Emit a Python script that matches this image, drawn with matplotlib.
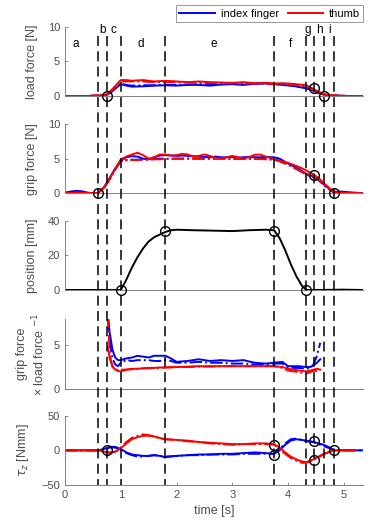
import numpy as np
import matplotlib.pyplot as plt

plt.rcParams['font.family'] = ['Liberation Sans', 'DejaVu Sans']

# phase boundaries (s) and the letters written above them
events = [0.59, 0.76, 1.0, 1.8, 3.75, 4.33, 4.46, 4.64, 4.83]
phase_letters = ['a', 'b', 'c', 'd', 'e', 'f', 'g', 'h', 'i']
letter_t = [0.2, 0.68, 0.87, 1.36, 2.66, 4.05, 4.36, 4.57, 4.74]

# load force [N]
t_load = [0, 0.4, 0.6, 0.7, 0.76, 0.85, 0.95, 1.0, 1.1, 1.2, 1.4, 1.6, 1.8, 2.0, 2.2,
          2.4, 2.6, 2.8, 3.0, 3.2, 3.4, 3.6, 3.75, 3.9, 4.1, 4.33, 4.46, 4.55, 4.64,
          4.75, 4.9, 5.1, 5.35]
load_index = [0, 0, 0.05, 0.1, 0.2, 0.7, 1.4, 1.7, 1.5, 1.35, 1.4, 1.5, 1.55, 1.5, 1.6,
              1.6, 1.5, 1.65, 1.7, 1.6, 1.75, 1.8, 1.7, 1.6, 1.45, 1.1, 0.75, 0.4, 0.2,
              0.1, 0.05, 0, 0]
load_index2 = [0, 0, 0.05, 0.1, 0.25, 0.8, 1.5, 1.8, 1.6, 1.5, 1.55, 1.55, 1.6, 1.6, 1.65,
               1.7, 1.7, 1.7, 1.75, 1.75, 1.8, 1.8, 1.75, 1.65, 1.5, 1.2, 0.9, 0.5, 0.25,
               0.1, 0.05, 0, 0]
load_thumb = [0, 0, 0.1, 0.15, 0.3, 1.0, 1.9, 2.3, 2.3, 2.2, 2.3, 2.1, 2.2, 2.1, 2.0,
              2.1, 2.0, 1.95, 1.9, 2.0, 1.85, 1.9, 1.8, 1.85, 1.75, 1.55, 1.0, 0.6, 0.3,
              0.15, 0.05, 0, 0]
load_thumb2 = [0, 0, 0.1, 0.15, 0.3, 0.9, 1.7, 2.1, 2.1, 2.1, 2.1, 2.0, 2.0, 2.0, 1.95,
               1.95, 1.9, 1.9, 1.85, 1.85, 1.8, 1.8, 1.75, 1.7, 1.6, 1.4, 0.9, 0.5, 0.2,
               0.1, 0.05, 0, 0]
load_marks_t = [0.76, 4.46, 4.64]
load_marks_y = [0, 1.2, 0]

# grip force [N]
t_grip = [0, 0.1, 0.2, 0.3, 0.4, 0.5, 0.59, 0.7, 0.8, 0.9, 1.0, 1.1, 1.2, 1.3, 1.4,
          1.5, 1.6, 1.7, 1.8, 1.9, 2.0, 2.1, 2.2, 2.3, 2.4, 2.5, 2.6, 2.7, 2.8, 2.9,
          3.0, 3.1, 3.2, 3.3, 3.4, 3.5, 3.6, 3.75, 3.85, 4.0, 4.1, 4.2, 4.33, 4.46, 4.55,
          4.64, 4.75, 4.83, 4.95, 5.1, 5.35]
grip_index = [0.1, 0.25, 0.35, 0.3, 0.1, 0.0, 0.0, 0.9, 2.2, 3.6, 4.7, 5.2, 5.35, 5.3, 5.0,
              4.9, 5.2, 5.45, 5.5, 5.45, 5.4, 5.45, 5.4, 5.35, 5.3, 5.25, 5.2, 5.3, 5.2, 5.2,
              5.25, 5.15, 5.2, 5.25, 5.2, 5.2, 5.25, 5.2, 5.0, 4.3, 3.9, 3.5, 2.8, 2.4, 2.0,
              1.3, 0.6, 0.2, 0.25, 0.15, 0.0]
grip_index2 = [0.05, 0.1, 0.15, 0.1, 0.05, 0.0, 0.0, 0.8, 2.1, 3.5, 4.6, 4.8, 4.85, 4.85, 4.9,
               4.9, 4.95, 5.0, 5.0, 5.0, 5.0, 5.0, 5.0, 5.0, 5.0, 5.0, 5.0, 5.0, 5.0, 5.0,
               5.0, 5.0, 5.0, 5.0, 5.0, 5.0, 4.95, 4.9, 4.7, 4.2, 3.8, 3.3, 2.7, 2.3, 1.9,
               1.2, 0.5, 0.1, 0.1, 0.05, 0.0]
grip_thumb = [0.0, 0.05, 0.1, 0.1, 0.05, 0.0, 0.0, 0.8, 2.1, 3.5, 4.9, 5.3, 5.6, 5.85, 5.5,
              5.0, 5.2, 5.6, 5.6, 5.45, 5.5, 5.7, 5.6, 5.3, 5.4, 5.6, 5.4, 5.1, 5.0, 5.2,
              5.4, 5.2, 5.0, 5.2, 5.55, 5.6, 5.3, 4.9, 4.7, 4.4, 4.1, 3.8, 3.3, 2.7, 2.2,
              1.5, 0.7, 0.1, 0.1, 0.05, 0.0]
grip_thumb2 = [0.0, 0.0, 0.05, 0.05, 0.0, 0.0, 0.0, 0.8, 2.0, 3.4, 4.7, 4.75, 4.8, 4.8, 4.85,
               4.85, 4.9, 4.9, 4.95, 4.95, 5.0, 5.0, 5.0, 5.0, 5.0, 5.0, 5.0, 5.0, 5.0, 5.0,
               4.95, 4.95, 4.95, 4.95, 4.95, 4.95, 4.9, 4.85, 4.6, 4.1, 3.7, 3.3, 2.8, 2.5, 2.0,
               1.3, 0.6, 0.1, 0.05, 0.0, 0.0]
grip_marks_t = [0.59, 4.46, 4.83]
grip_marks_y = [0, 2.6, 0]

# object position [mm]
t_pos = [0, 0.5, 0.9, 1.0, 1.1, 1.2, 1.3, 1.4, 1.5, 1.6, 1.7, 1.8, 1.9, 2.0, 2.3,
         2.6, 3.0, 3.3, 3.6, 3.75, 3.85, 3.95, 4.05, 4.15, 4.25, 4.33, 4.5, 5.0, 5.35]
position = [0, 0, 0, 0, 6, 13, 19, 24, 28, 30.5, 32, 33.5, 34.5, 34.8, 34.5,
            34.3, 34.0, 34.5, 34.8, 34.5, 30, 23, 15, 8, 2.5, 0, 0, 0.2, 0]
pos_marks_t = [1.0, 1.8, 3.75, 4.33]
pos_marks_y = [0, 34, 34, 0]

# grip force / load force ratio
t_ratio = [0.77, 0.8, 0.85, 0.9, 0.95, 1.0, 1.1, 1.2, 1.3, 1.4, 1.5, 1.6, 1.7, 1.8, 1.9,
           2.0, 2.2, 2.4, 2.6, 2.8, 3.0, 3.2, 3.4, 3.6, 3.75, 3.9, 4.0, 4.1, 4.2, 4.33,
           4.4, 4.46, 4.52, 4.58]
ratio_index = [8.5, 6.5, 4.5, 3.6, 3.3, 3.3, 3.5, 3.6, 3.8, 3.7, 3.6, 3.8, 3.8, 3.8, 3.5,
               3.1, 3.2, 3.4, 3.2, 3.3, 3.2, 3.3, 3.0, 2.9, 3.0, 3.1, 2.6, 2.6, 2.6, 2.5,
               2.5, 2.7, 3.0, 3.4]
ratio_index2 = [8.0, 5.5, 3.5, 2.8, 2.6, 3.0, 3.3, 3.2, 3.3, 3.3, 3.3, 3.2, 3.2, 3.3, 3.2,
                3.0, 3.0, 3.1, 3.0, 3.0, 2.9, 2.9, 2.8, 2.8, 2.9, 2.9, 2.5, 2.4, 2.4, 2.3,
                2.4, 2.8, 3.8, 5.3]
ratio_thumb = [4.8, 3.5, 2.6, 2.2, 2.05, 2.0, 2.2, 2.3, 2.3, 2.35, 2.4, 2.4, 2.45, 2.45, 2.5,
               2.5, 2.55, 2.6, 2.6, 2.6, 2.6, 2.6, 2.6, 2.6, 2.6, 2.5, 2.3, 2.2, 2.1, 2.0,
               2.1, 2.2, 2.3, 2.2]
ratio_thumb2 = [8.5, 4.0, 2.5, 2.2, 2.2, 2.2, 2.2, 2.25, 2.3, 2.35, 2.35, 2.4, 2.4, 2.45, 2.45,
                2.5, 2.5, 2.55, 2.55, 2.6, 2.6, 2.6, 2.6, 2.6, 2.6, 2.4, 2.1, 2.0, 1.9, 1.75,
                1.9, 2.1, 2.0, 2.0]

# torque tau_z [Nmm]
t_tau = [0, 0.5, 0.6, 0.7, 0.8, 0.9, 1.0, 1.1, 1.2, 1.3, 1.4, 1.5, 1.6, 1.7, 1.8,
         2.0, 2.2, 2.4, 2.6, 2.8, 3.0, 3.2, 3.4, 3.6, 3.75, 3.85, 3.95, 4.05, 4.15, 4.25,
         4.33, 4.46, 4.55, 4.64, 4.75, 4.83, 5.0, 5.2, 5.35]
tau_index = [0, 0, 0, 2, 5, 5, 2, -3, -6, -7, -8, -8, -7, -8, -10,
             -8, -7, -6, -6, -5, -5, -4, -3, -4, -5, 0, 8, 14, 16, 15,
             14, 12, 10, 8, 4, 0, 0, 0, 0]
tau_index2 = [0, 0, 0, 1, 4, 4, 1, -4, -7, -9, -9, -8, -7, -8, -9,
              -8, -7, -7, -6, -6, -6, -5, -5, -5, -5, 2, 10, 16, 17, 15,
              13, 12, 9, 6, 3, 0, 0, 0, 0]
tau_thumb = [0, 0, 0, -2, -3, -2, 3, 10, 16, 19, 21, 21, 20, 18, 16,
             15, 14, 12, 11, 10, 9, 9, 10, 10, 9, 4, -3, -9, -13, -16,
             -17, -13, -9, -5, -2, 0, 0, 0, np.nan]
tau_thumb2 = [0, 0, 0, -2, -4, -2, 4, 12, 18, 21, 23, 22, 20, 17, 16,
              15, 13, 12, 10, 9, 8, 9, 9, 9, 8, 2, -5, -11, -15, -18,
              -18, -14, -10, -6, -2, 0, 0, 0, np.nan]
tau_marks_t = [0.76, 3.75, 3.75, 4.46, 4.46, 4.83]
tau_marks_y = [0, 7, -7, 14, -14, 0]

fig = plt.figure(figsize=(3.74, 5.29), dpi=100)

L, W = 0.174, 0.797
boxes = [0.8185, 0.6346, 0.4518, 0.2652, 0.0832]
H = 0.131
gray = '#4d4d4d'

axes = []
for b in boxes:
    ax = fig.add_axes([L, b, W, H])
    ax.set_xlim(0, 5.35)
    for s in ['top', 'right']:
        ax.spines[s].set_visible(False)
    for s in ['left', 'bottom']:
        ax.spines[s].set_color('#808080')
        ax.spines[s].set_linewidth(0.7)
    ax.tick_params(direction='in', length=2.5, width=0.6, colors='#808080',
                   labelcolor=gray, labelsize=8)
    ax.patch.set_alpha(0)
    axes.append(ax)

lw = 1.4
blue = '#0000ff'
red = '#ff0000'

def pair(ax, t, a, a2, b, b2):
    ax.plot(t, a, color=blue, lw=lw)
    ax.plot(t, a2, color=blue, lw=lw, ls='-.')
    ax.plot(t, b, color=red, lw=lw)
    ax.plot(t, b2, color=red, lw=lw, ls='-.')

def rings(ax, t, y):
    ax.plot(t, y, 'o', mfc='none', mec='k', mew=1.0, ms=7, clip_on=False, zorder=5)

# panel 1 - load force
ax = axes[0]
pair(ax, t_load, load_index, load_index2, load_thumb, load_thumb2)
rings(ax, load_marks_t, load_marks_y)
ax.set_ylim(0, 10)
ax.set_yticks([0, 5, 10])
ax.set_ylabel('load force [N]', fontsize=9)

# panel 2 - grip force
ax = axes[1]
pair(ax, t_grip, grip_index, grip_index2, grip_thumb, grip_thumb2)
rings(ax, grip_marks_t, grip_marks_y)
ax.set_ylim(0, 10)
ax.set_yticks([0, 5, 10])
ax.set_ylabel('grip force [N]', fontsize=9)

# panel 3 - position
ax = axes[2]
ax.plot(t_pos, position, color='k', lw=lw)
rings(ax, pos_marks_t, pos_marks_y)
ax.set_ylim(0, 40)
ax.set_yticks([0, 20, 40])
ax.set_ylabel('position [mm]', fontsize=9)

# panel 4 - ratio
ax = axes[3]
pair(ax, t_ratio, ratio_index, ratio_index2, ratio_thumb, ratio_thumb2)
ax.set_ylim(0, 8)
ax.set_yticks([0, 5])
ax.set_ylabel('grip force\n× load force $^{-1}$', fontsize=9)

# panel 5 - torque
ax = axes[4]
pair(ax, t_tau, tau_index, tau_index2, tau_thumb, tau_thumb2)
rings(ax, tau_marks_t, tau_marks_y)
ax.set_ylim(-50, 50)
ax.set_yticks([-50, 0, 50])
ax.set_ylabel(r'$\tau_z$ [Nmm]', fontsize=9)
ax.set_xticks([0, 1, 2, 3, 4, 5])
ax.set_xlabel('time [s]', fontsize=9, color=gray)

for ax in axes[:4]:
    ax.set_xticks([])

label_x = [-0.09, -0.09, -0.09, -0.06, -0.115]
for ax, x in zip(axes, label_x):
    ax.yaxis.set_label_coords(x, 0.5)
    ax.yaxis.label.set_color(gray)

# overlay axes in pixel rows for the phase lines and letters
ov = fig.add_axes([L, 0.0832, W, 1 - 0.0832])
ov.set_xlim(0, 5.35)
ov.set_ylim(485, 0)
ov.axis('off')
ov.vlines(events, 36, 485, colors='k', lw=1.1, linestyles=(0, (6.5, 3.5)))
for s, tx in zip(phase_letters, letter_t):
    yy = 30 if s in 'bcghi' else 44
    ov.text(tx, yy, s, ha='center', va='center', fontsize=8.5)

# legend at the top right
h1, = axes[0].plot([], [], color=blue, lw=lw)
h2, = axes[0].plot([], [], color=red, lw=lw)
leg = fig.legend([h1, h2], ['index finger', 'thumb'], loc='upper right',
                 bbox_to_anchor=(0.971, 0.99), ncol=2, fontsize=8,
                 handlelength=3.2, handletextpad=0.5, columnspacing=0.8,
                 borderpad=0.3, borderaxespad=0, fancybox=False, edgecolor='#808080')
leg.get_frame().set_linewidth(0.7)

plt.savefig('out.png', dpi=100)
